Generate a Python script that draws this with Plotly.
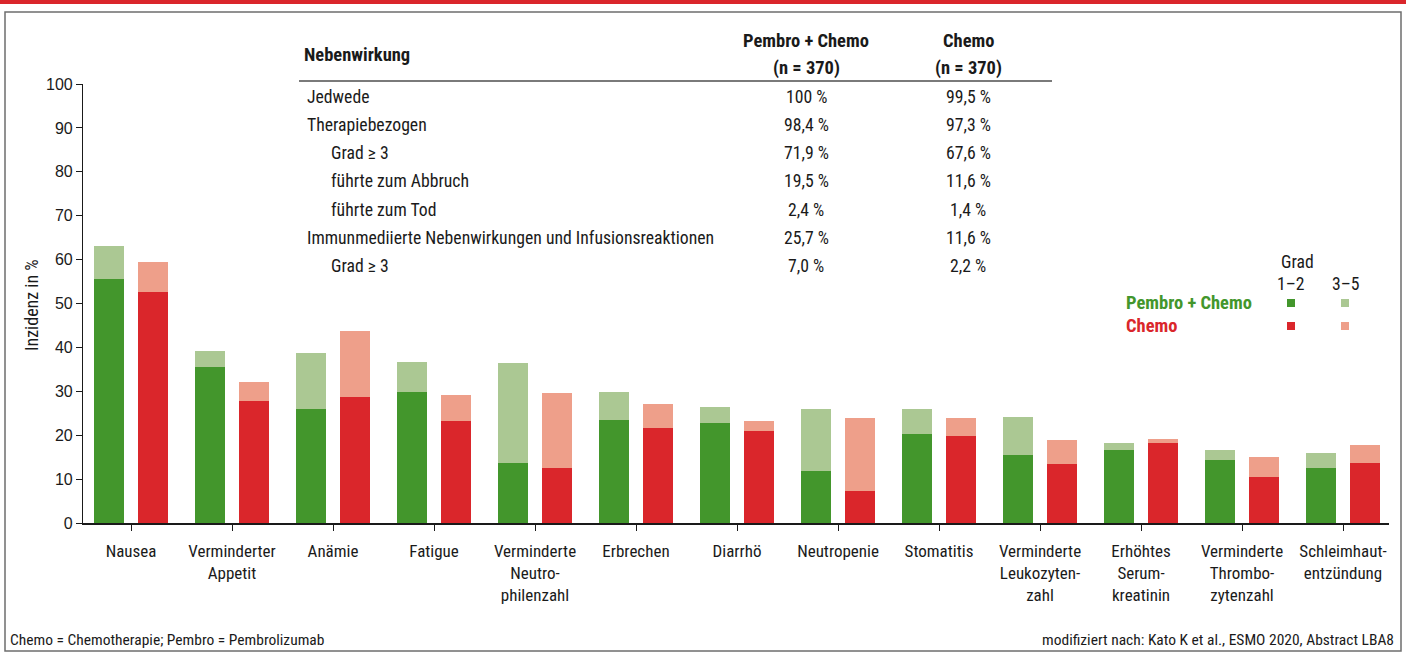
import plotly.graph_objects as go

# ---------------- data ----------------
categories = ["Nausea", "Verminderter<br>Appetit", "Anämie", "Fatigue",
              "Verminderte<br>Neutro-<br>philenzahl", "Erbrechen", "Diarrhö",
              "Neutropenie", "Stomatitis", "Verminderte<br>Leukozyten-<br>zahl",
              "Erhöhtes<br>Serum-<br>kreatinin", "Verminderte<br>Thrombo-<br>zytenzahl",
              "Schleimhaut-<br>entzündung"]
pembro_g12 = [55.6, 35.5, 26.0, 29.8, 13.7, 23.5, 22.8, 11.8, 20.3, 15.5, 16.6, 14.4, 12.5]
pembro_total = [63.1, 39.2, 38.7, 36.7, 36.4, 29.8, 26.4, 26.0, 26.0, 24.1, 18.2, 16.6, 15.9]
chemo_g12 = [52.6, 27.8, 28.7, 23.2, 12.5, 21.6, 21.0, 7.3, 19.9, 13.4, 18.2, 10.5, 13.7]
chemo_total = [59.5, 32.1, 43.7, 29.2, 29.6, 27.1, 23.2, 23.9, 23.9, 18.9, 19.1, 15.0, 17.8]

table_rows = ["Jedwede", "Therapiebezogen", "Grad ≥ 3", "führte zum Abbruch",
              "führte zum Tod", "Immunmediierte Nebenwirkungen und Infusionsreaktionen",
              "Grad ≥ 3"]
table_indent = [False, False, True, True, True, False, True]
table_pembro = ["100 %", "98,4 %", "71,9 %", "19,5 %", "2,4 %", "25,7 %", "7,0 %"]
table_chemo = ["99,5 %", "97,3 %", "67,6 %", "11,6 %", "1,4 %", "11,6 %", "2,2 %"]

# ---------------- style ----------------
W, H = 1406, 652
L, R, T, B = 83, 1389, 84, 523
FONT = "Liberation Sans Narrow, Arial Narrow, Roboto Condensed, DejaVu Sans Condensed, sans-serif"
NUMFONT = "Liberation Sans, Arial, sans-serif"
TXT = "#1a1a1a"
G_DARK, G_LIGHT = "#43962c", "#abc893"
R_DARK, R_LIGHT = "#da262b", "#ee9f8a"

def px(x):
    return (x - L) / (R - L)

def py(y):
    return (B - y) / (B - T)

xs = list(range(len(categories)))
bw = 0.297
g_off = -0.218 - bw / 2
r_off = 0.218 - bw / 2

fig = go.Figure()
fig.add_trace(go.Bar(x=xs, y=pembro_g12, base=0, width=bw, offset=g_off,
                     marker=dict(color=G_DARK, line=dict(width=0)), name="Pembro + Chemo 1–2"))
fig.add_trace(go.Bar(x=xs, y=[t - g for t, g in zip(pembro_total, pembro_g12)], base=pembro_g12,
                     width=bw, offset=g_off, marker=dict(color=G_LIGHT, line=dict(width=0)),
                     name="Pembro + Chemo 3–5"))
fig.add_trace(go.Bar(x=xs, y=chemo_g12, base=0, width=bw, offset=r_off,
                     marker=dict(color=R_DARK, line=dict(width=0)), name="Chemo 1–2"))
fig.add_trace(go.Bar(x=xs, y=[t - g for t, g in zip(chemo_total, chemo_g12)], base=chemo_g12,
                     width=bw, offset=r_off, marker=dict(color=R_LIGHT, line=dict(width=0)),
                     name="Chemo 3–5"))

ann = []
def text(x, y, s, size=17.7, bold=False, color=TXT, xanchor="left", angle=0, family=FONT):
    ann.append(dict(x=px(x), y=py(y), xref="paper", yref="paper", text=("<b>%s</b>" % s) if bold else s,
                    showarrow=False, xanchor=xanchor, yanchor="middle", textangle=angle,
                    font=dict(family=family, size=size, color=color)))

# table header
text(302, 55, "Nebenwirkung", bold=True, size=18.5)
text(806, 41, "Pembro + Chemo", bold=True, xanchor="center", size=18.5)
text(806, 68, "(n = 370)", bold=True, xanchor="center", size=18.5)
text(968, 41, "Chemo", bold=True, xanchor="center", size=18.5)
text(968, 68, "(n = 370)", bold=True, xanchor="center", size=18.5)
row_y = [97, 125, 153, 181, 210, 238, 266]
for lab, ind, a, b, yy in zip(table_rows, table_indent, table_pembro, table_chemo, row_y):
    text(329 if ind else 305, yy, lab)
    text(806, yy, a, xanchor="center")
    text(968, yy, b, xanchor="center")

# legend
text(1297, 262, "Grad", xanchor="center")
text(1291, 284, "1–2", xanchor="center")
text(1346, 284, "3–5", xanchor="center")
text(1124, 303, "Pembro + Chemo", bold=True, color=G_DARK, size=18.5)
text(1124, 326, "Chemo", bold=True, color=R_DARK, size=18.5)

# y axis title
text(31, 305, "Inzidenz in %", xanchor="center", angle=-90, size=18)

# footer
text(8, 640, "Chemo = Chemotherapie; Pembro = Pembrolizumab", size=15.5)
ann.append(dict(x=px(1396), y=py(640), xref="paper", yref="paper",
                text="modifiziert nach: Kato K et al., ESMO 2020, Abstract LBA8", showarrow=False,
                xanchor="right", yanchor="middle", font=dict(family=FONT, size=15.5, color=TXT)))

shapes = []
# top red band
shapes.append(dict(type="rect", xref="paper", yref="paper", x0=px(0), x1=px(W), y0=py(0), y1=py(4),
                   fillcolor=R_DARK, line=dict(width=0), layer="below"))
# frame
shapes.append(dict(type="rect", xref="paper", yref="paper", x0=px(5), x1=px(1401), y0=py(12), y1=py(651),
                   fillcolor="rgba(0,0,0,0)", line=dict(color="#6e6e6e", width=1.5), layer="below"))
# table rule
shapes.append(dict(type="line", xref="paper", yref="paper", x0=px(299), x1=px(1052), y0=py(81), y1=py(81),
                   line=dict(color="#7a7a7a", width=2)))
# legend squares
for cx, cy, col in [(1291, 303, G_DARK), (1345, 303, G_LIGHT), (1291, 326, R_DARK), (1345, 326, R_LIGHT)]:
    shapes.append(dict(type="rect", xref="paper", yref="paper", x0=px(cx - 4), x1=px(cx + 4),
                       y0=py(cy + 4), y1=py(cy - 4), fillcolor=col, line=dict(width=0)))

x0 = (L - 131) / 101
x1 = (R - 131) / 101
fig.update_layout(
    width=W, height=H, autosize=False,
    margin=dict(l=L, r=W - R, t=T, b=H - B, pad=0),
    paper_bgcolor="white", plot_bgcolor="white",
    barmode="overlay", bargap=0, showlegend=False,
    font=dict(family=FONT, size=16, color=TXT),
    annotations=ann, shapes=shapes,
    xaxis=dict(range=[x0, x1], tickmode="array", tickvals=xs, ticktext=categories,
               showgrid=False, zeroline=False, showline=True, linecolor="#1a1a1a", linewidth=1.5,
               ticks="outside", ticklen=6, tickwidth=1.2, tickcolor="#1a1a1a", ticklabelstandoff=6,
               tickfont=dict(family=FONT, size=17, color=TXT), fixedrange=True),
    yaxis=dict(range=[0, 100], tickmode="array", tickvals=list(range(0, 101, 10)),
               showgrid=False, zeroline=False, showline=True, linecolor="#1a1a1a", linewidth=1.2,
               ticks="outside", ticklen=6, tickwidth=1.2, tickcolor="#1a1a1a",
               tickfont=dict(family=NUMFONT, size=16, color=TXT), fixedrange=True),
)

fig.write_html("out.html", config={"displayModeBar": False},
               post_script="document.body.style.margin='0';")
